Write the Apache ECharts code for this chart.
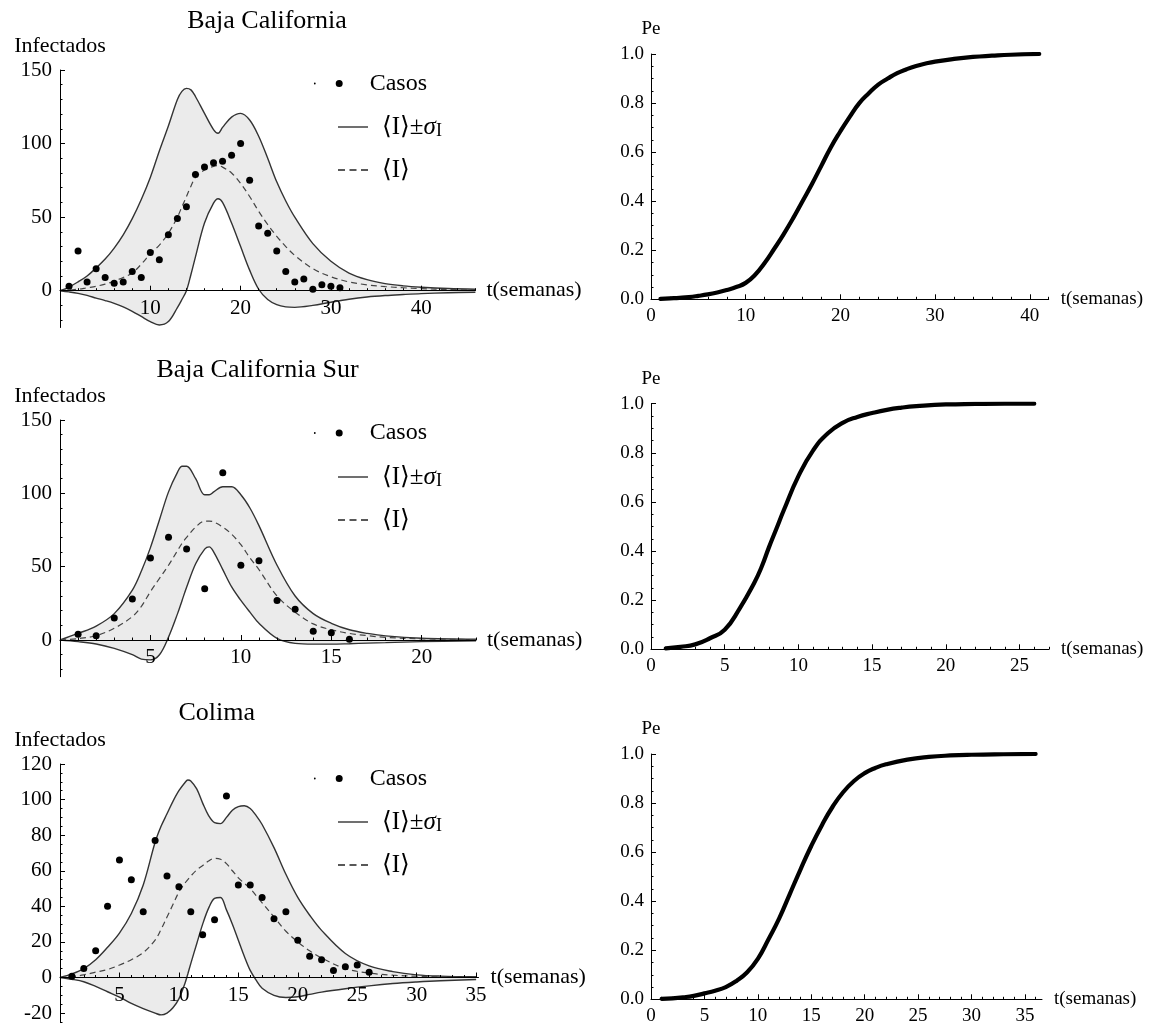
<!DOCTYPE html>
<html><head><meta charset="utf-8">
<script src="https://cdn.jsdelivr.net/npm/echarts@6/dist/echarts.min.js"></script>
<style>html,body{margin:0;padding:0;background:#fff}#c{width:1158px;height:1027px}</style>
</head><body><div id="c"></div><script>
// ---------------- DATA ----------------
// Baja California
const bcWeeks = [1,2,3,4,5,6,7,8,9,10,11,12,13,14,15,16,17,18,19,20,21,22,23,24,25,26,27,28,29,30,31];
const bcCases = [3,27,6,15,9,5,6,13,9,26,21,38,49,57,79,84,87,88,92,100,75,44,39,27,13,6,8,1,4,3,2];
const bcT     = [0,1,2,3,4,5,6,7,8,9,10,11,12,13,13.5,14,14.5,15,16,17,17.5,18,19,20,21,22,23,24,25,26,28,30,32,34,36,38,40,43,46];
const bcUpper = [0,2.5,6,10,15.5,21.5,29,38,49,62,77,95,112,130,135.5,137.5,136.5,132,120.5,109.5,107,111,118,120.5,116,105,90,74,61,50,32,20,12,7.5,4.8,3.3,2.4,1.5,1.0];
const bcLower = [0,-0.8,-1.8,-3.2,-5,-6.7,-8.6,-11,-14,-17.5,-21,-23.3,-21,-11.5,-6,0,11,23,46,59.5,62.5,60,46,30,14,1,-6,-9.5,-11,-11.3,-10,-7.8,-5.8,-4.3,-3.3,-2.6,-2,-1.4,-1];
const bcMean  = [0,0.5,1,2,3,4.5,6.5,9,12,18,25,31,39,50,57,64,71,77,82,84.5,85,84,80,73,64,54,45,37,30,24,15,9.5,6,4,2.8,2,1.4,0.8,0.5];
const bcXTicks = [10,20,30,40];
const bcYTicks = [0,50,100,150];

// Baja California Sur
const bcsWeeks = [1,2,3,4,5,6,7,8,9,10,11,12,13,14,15,16];
const bcsCases = [4,3,15,28,56,70,62,35,114,51,54,27,21,6,5,0.5];
const bcsT     = [0,1,2,3,4,4.5,5,5.5,6,6.5,6.75,7,7.5,8,8.25,8.5,9,9.5,10,10.5,11,12,13,14,15,16,17,18,20,23];
const bcsUpper = [0,4.5,9.5,18,34,47,63,82,101,114.5,118.5,118.5,110,99,99,101,104.5,104.5,99,90,78,51,30,18,11.4,7,4.5,2.8,1.2,0.5];
const bcsLower = [0,-1.1,-2.7,-5.7,-10,-13,-13.5,-10,2,18,27,36,52,62,63.5,60,48,36,27,19,11.4,1.1,-2.3,-2.8,-2.8,-2.5,-2.1,-1.8,-1.1,-0.5];
const bcsMean  = [0,1,3,8,16,23,33,42,51,61,66,70,77,81,81,80.5,77,72,65,56,48,30,19,11,7,4.5,3,1.8,0.8,0.3];
const bcsXTicks = [5,10,15,20];
const bcsYTicks = [0,50,100,150];

// Colima
const colWeeks = [1,2,3,4,5,6,7,8,9,10,11,12,13,14,15,16,17,18,19,20,21,22,23,24,25,26];
const colCases = [0.7,5,15,40,66,55,37,77,57,51,37,24,32.5,102,52,52,45,33,37,21,12,10,4,6,7,3];
const colT     = [0,1,2,3,4,5,6,7,8,8.5,9,9.5,10,10.5,10.75,11,11.5,12,12.5,13,13.5,14,14.5,15,15.5,16,16.5,17,18,19,20,21,22,24,26,28,30,32,35];
const colUpper = [0,2,5,10,17,25,36,52,76,85,92,99,105,109.5,111,110.5,106,98,91,87,86.5,90,94,96,96.5,95,91,86,73,58,45,35,26.5,13.5,6.5,3.3,1.5,0.8,0.4];
const colLower = [0,-1,-2.4,-5,-8,-11,-14.6,-17.5,-20,-21,-20,-17,-12,-3.5,2,7.8,19,30,39,44.5,45,38,30,21,12,4,-1.5,-6,-10,-11.2,-10.8,-9.5,-8.2,-6.3,-4.7,-3.4,-2.5,-1.8,-1.1];
const colMean  = [0,0.5,1.5,3,4.5,7,10,14,21,27,34,41,48,53,55,57,60.5,63,65.5,67,66.5,64,60,56,53,50,46,42,34,26,20,15,11,5,2.5,1.3,0.7,0.4,0.2];
const colXTicks = [5,10,15,20,25,30,35];
const colYTicks = [-20,0,20,40,60,80,100,120];

// Pe curves
const r1T  = [1,2,3,4,5,6,7,8,9,10,11,12,13,14,15,16,17,18,19,20,21,22,23,24,25,26,27,28,29,30,32,34,36,38,41];
const r1Pe = [0.002,0.004,0.006,0.009,0.014,0.02,0.028,0.038,0.05,0.067,0.1,0.148,0.205,0.265,0.33,0.4,0.47,0.545,0.62,0.685,0.745,0.8,0.84,0.875,0.9,0.922,0.938,0.951,0.961,0.969,0.98,0.988,0.993,0.997,1.0];
const r2T  = [1,2,3,4,5,6,7,7.5,8,8.5,9,10,11,12,13,14,15,16,17,18,20,22,24,26];
const r2Pe = [0.004,0.01,0.02,0.045,0.08,0.165,0.27,0.335,0.415,0.49,0.565,0.705,0.81,0.88,0.922,0.946,0.962,0.975,0.984,0.99,0.997,0.999,1.0,1.0];
const r3T  = [1,2,3,4,5,6,7,8,9,10,11,12,13,14,15,16,17,18,19,20,21,22,24,26,28,30,33,36];
const r3Pe = [0.002,0.004,0.008,0.014,0.024,0.035,0.05,0.075,0.11,0.165,0.245,0.33,0.43,0.53,0.625,0.71,0.785,0.845,0.89,0.922,0.943,0.958,0.977,0.988,0.994,0.997,0.999,1.0];
const peYTicks = [0,0.2,0.4,0.6,0.8,1.0];
const r1XTicks = [0,10,20,30,40];
const r2XTicks = [0,5,10,15,20,25];
const r3XTicks = [0,5,10,15,20,25,30,35];

const titles = ['Baja California','Baja California Sur','Colima'];

// ---------------- HELPERS ----------------
const FONT = "'Liberation Serif','DejaVu Serif',serif";
function pairs(xs, ys){ return xs.map((x,i)=>[x, ys[i]]); }
function vtPairs(xs, ys){ return xs.map((x,i)=>[ys[i], x]); }   // [value, t] so the value dimension is stacked
function diff(a,b){ return a.map((v,i)=>v-b[i]); }
function steps(a,b,s,skip){ const out=[]; for(let k=0;;k++){ const v=Math.round((a+k*s)*1000)/1000; if(v>b+1e-9) break; if(skip && Math.abs(v/skip-Math.round(v/skip))<1e-6) continue; out.push(v);} return out; }

const option = {animation:false, backgroundColor:'#fff', title:[], grid:[], xAxis:[], yAxis:[], series:[], legend:[]};

function addGrid(g){ option.grid.push(Object.assign({outerBoundsMode:'none', containLabel:false}, g)); return option.grid.length-1; }

function addAxes(gi, c){
  const xi = option.xAxis.length, yi = option.yAxis.length;
  const xOff = -(0 - c.yMin) / (c.yMax - c.yMin) * c.grid.height;   // put x axis on the zero line
  option.xAxis.push({gridIndex:gi, type:'value', position:'bottom', offset:xOff, min:0, max:c.xMax, z:10,
    axisLine:{show:true, onZero:false, lineStyle:{color:'#000', width:1}},
    axisTick:{show:true, inside:true, length:5, customValues:c.xMajor, lineStyle:{color:'#000', width:1}},
    axisLabel:{show:true, customValues:c.xMajor, margin:c.xMargin, fontFamily:FONT, fontSize:c.tickFont, color:'#000', formatter:v=>String(v)},
    splitLine:{show:false},
    name:'t(semanas)', nameLocation:'end', nameGap:c.xNameGap, nameTextStyle:{fontFamily:FONT, fontSize:c.nameFont, color:'#000'}});
  option.xAxis.push({gridIndex:gi, type:'value', position:'bottom', offset:xOff, min:0, max:c.xMax, z:10,
    axisLine:{show:false, onZero:false},
    axisTick:{show:true, inside:true, length:2.5, customValues:c.xMinor, lineStyle:{color:'#000', width:1}},
    axisLabel:{show:false}, splitLine:{show:false}});
  option.yAxis.push({gridIndex:gi, type:'value', position:'left', min:c.yMin, max:c.yMax, z:10,
    axisLine:{show:true, onZero:false, lineStyle:{color:'#000', width:1}},
    axisTick:{show:true, inside:true, length:5, customValues:c.yMajor, lineStyle:{color:'#000', width:1}},
    axisLabel:{show:true, customValues:c.yMajor, margin:c.yMargin, fontFamily:FONT, fontSize:c.tickFont, color:'#000', formatter:c.yFmt},
    splitLine:{show:false},
    name:c.yName, nameLocation:'end', nameGap:c.yNameGap, nameTextStyle:{fontFamily:FONT, fontSize:c.nameFont, color:'#000'}});
  option.yAxis.push({gridIndex:gi, type:'value', position:'left', min:c.yMin, max:c.yMax, z:10,
    axisLine:{show:false, onZero:false},
    axisTick:{show:true, inside:true, length:2.5, customValues:c.yMinor, lineStyle:{color:'#000', width:1}},
    axisLabel:{show:false}, splitLine:{show:false}});
  return {xi, yi};
}

const BAND_LINE = '#333', BAND_FILL = '#ebebeb', MEAN_LINE = '#444';

const leftLayout = [
  {grid:{left:60, top:70, width:415.4, height:257.5}, xMax:46, yMin:-25, yMax:150, titleCx:267, titleTop:8, leg:[84.5,127.5,170.5],
   t:bcT, upper:bcUpper, lower:bcLower, mean:bcMean, weeks:bcWeeks, cases:bcCases, xMajor:bcXTicks, xMinor:steps(2,46,2,10), yMajor:bcYTicks, yMinor:steps(-20,150,10,50)},
  {grid:{left:60, top:420, width:416, height:256.7}, xMax:23, yMin:-25, yMax:150, titleCx:257.5, titleTop:357, leg:[434,477.5,520.5],
   t:bcsT, upper:bcsUpper, lower:bcsLower, mean:bcsMean, weeks:bcsWeeks, cases:bcsCases, xMajor:bcsXTicks, xMinor:steps(1,23,1,5), yMajor:bcsYTicks, yMinor:steps(-20,150,10,50)},
  {grid:{left:60, top:764, width:418.5, height:258}, xMax:35.2, yMin:-25, yMax:120, titleCx:216.7, titleTop:700, leg:[779.5,822.5,865.5],
   t:colT, upper:colUpper, lower:colLower, mean:colMean, weeks:colWeeks, cases:colCases, xMajor:colXTicks, xMinor:steps(1,35,1,5), yMajor:colYTicks, yMinor:steps(-25,120,5,20)}
];

const rightLayout = [
  {grid:{left:651, top:54, width:397.7, height:245.3}, xMax:42, t:r1T, pe:r1Pe, xMajor:r1XTicks, xMinor:steps(2,42,2,10)},
  {grid:{left:651, top:403.7, width:398, height:245.6}, xMax:27, t:r2T, pe:r2Pe, xMajor:r2XTicks, xMinor:steps(1,27,1,5)},
  {grid:{left:651, top:754, width:391, height:245.3}, xMax:36.6, t:r3T, pe:r3Pe, xMajor:r3XTicks, xMinor:steps(1,36,1,5)}
];

const legendText = {fontFamily:FONT, fontSize:24, color:'#000', rich:{
  p:{fontFamily:FONT, fontSize:24, lineHeight:26, padding:[0,0,0,22], color:'#000'},
  a:{fontFamily:FONT, fontSize:25, lineHeight:26, padding:[0,0,0,9], color:'#000'},
  s:{fontFamily:FONT, fontSize:25, lineHeight:26, fontStyle:'italic', color:'#000'},
  sub:{fontFamily:FONT, fontSize:18, lineHeight:14, verticalAlign:'bottom', color:'#000'}
}};
const legendFmt = function(name){
  if (name === 'Casos') return '{p|Casos}';
  if (name === 'band') return '{a|\u27E8I\u27E9\u00B1}{s|\u03C3}{sub|I}';
  return '{a|\u27E8I\u27E9}';
};

leftLayout.forEach((c, i) => {
  const gi = addGrid(c.grid);
  const ax = addAxes(gi, Object.assign({xMargin:7, yMargin:8, tickFont:21, nameFont:22, xNameGap:11, yNameGap:13,
    yName:'Infectados', yFmt:v=>String(v)}, c));
  option.title.push({text:titles[i], left:c.titleCx, top:c.titleTop, textAlign:'center', padding:0,
    textStyle:{fontFamily:FONT, fontSize:26, fontWeight:'normal', color:'#000'}});
  const stack = 'band' + i;
  const enc = {x:1, y:0};
  option.series.push({type:'line', name:'lowband', xAxisIndex:ax.xi, yAxisIndex:ax.yi, data:vtPairs(c.t, c.lower), encode:enc,
    stack:stack, stackStrategy:'all', symbol:'none', smooth:0.35, z:4,
    lineStyle:{color:BAND_LINE, width:1.4}, itemStyle:{color:BAND_LINE}});
  option.series.push({type:'line', name:'band', xAxisIndex:ax.xi, yAxisIndex:ax.yi, data:vtPairs(c.t, diff(c.upper, c.lower)), encode:enc,
    stack:stack, stackStrategy:'all', symbol:'none', smooth:0.35, z:3,
    lineStyle:{color:BAND_LINE, width:1.4}, itemStyle:{color:BAND_LINE}, areaStyle:{color:BAND_FILL, opacity:1}});
  option.series.push({type:'line', name:'mean', xAxisIndex:ax.xi, yAxisIndex:ax.yi, data:pairs(c.t, c.mean),
    symbol:'none', smooth:0.35, z:5, lineStyle:{color:MEAN_LINE, width:1.2, type:[6,4]}, itemStyle:{color:MEAN_LINE}});
  option.series.push({type:'scatter', name:'Casos', xAxisIndex:ax.xi, yAxisIndex:ax.yi, data:pairs(c.weeks, c.cases),
    symbol:'circle', symbolSize:7, z:12, itemStyle:{color:'#000', opacity:1}});
  // legends
  option.legend.push({left:313.9, top:c.leg[0]-13, padding:0, selectedMode:false, itemWidth:28.8, itemHeight:7,
    data:[{name:'Casos', icon:'path://M0.2,3.5a0.9,0.9 0 1,0 1.8,0a0.9,0.9 0 1,0 -1.8,0Z M22,3.5a3.5,3.5 0 1,0 7,0a3.5,3.5 0 1,0 -7,0Z'}],
    itemStyle:{color:'#000', opacity:1}, textStyle:legendText, formatter:legendFmt});
  option.legend.push({left:338, top:c.leg[1]-13, padding:0, selectedMode:false, itemWidth:30, itemHeight:1.3,
    data:[{name:'band', icon:'path://M0,0h30v1.3h-30Z'}], itemStyle:{color:'#222', opacity:1}, textStyle:legendText, formatter:legendFmt});
  option.legend.push({left:338, top:c.leg[2]-13, padding:0, selectedMode:false, itemWidth:30, itemHeight:1.3,
    data:[{name:'mean', icon:'path://M0,0h7v1.3h-7Z M11.5,0h7v1.3h-7Z M23,0h7v1.3h-7Z'}], itemStyle:{color:'#222', opacity:1}, textStyle:legendText, formatter:legendFmt});
});

rightLayout.forEach((c) => {
  const gi = addGrid(c.grid);
  const ax = addAxes(gi, Object.assign({yMin:0, yMax:1, yMajor:peYTicks, yMinor:steps(0.05,1,0.05,0.2),
    xMargin:7, yMargin:7, tickFont:19, nameFont:19, xNameGap:12, yNameGap:15, yName:'Pe', yFmt:v=>v.toFixed(1)}, c));
  option.series.push({type:'line', name:'Pe', xAxisIndex:ax.xi, yAxisIndex:ax.yi, data:pairs(c.t, c.pe),
    symbol:'none', smooth:0.5, z:5, lineStyle:{color:'#000', width:4.2, cap:'round'}, itemStyle:{color:'#000'}});
});

const chart = echarts.init(document.getElementById('c'), null, {renderer:'canvas'});
chart.setOption(option);
</script></body></html>
